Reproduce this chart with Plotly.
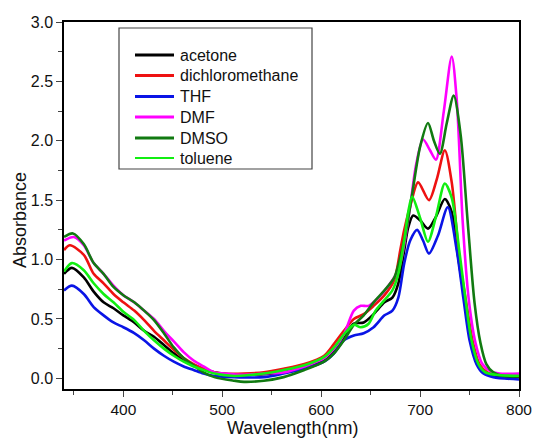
import plotly.graph_objects as go

# ---------------- data ----------------
acetone_wl = [340, 348, 360, 370, 380, 390, 400, 411, 421, 431, 441, 451, 461, 471, 481, 492, 512, 530, 562, 583,
              603, 613, 623, 633, 643, 653, 664, 672, 678, 684, 688, 693, 700, 708, 716, 725, 732, 738, 745, 751,
              758, 766, 776, 800]
acetone_abs = [0.88, 0.93, 0.85, 0.73, 0.64, 0.59, 0.53, 0.47, 0.40, 0.35, 0.28, 0.21, 0.15, 0.11, 0.08, 0.05, 0.03,
               0.03, 0.05, 0.10, 0.15, 0.24, 0.35, 0.46, 0.47, 0.54, 0.64, 0.68, 0.80, 1.08, 1.27, 1.37, 1.33, 1.26,
               1.36, 1.51, 1.40, 1.05, 0.66, 0.32, 0.12, 0.04, 0.02, 0.01]

dcm_wl = [340, 346, 360, 370, 380, 390, 400, 411, 421, 431, 441, 451, 461, 471, 481, 492, 502, 522, 542, 562, 583,
          603, 613, 623, 633, 643, 653, 664, 674, 680, 684, 690, 698, 709, 717, 725, 732, 740, 747, 753, 760,
          768, 778, 800]
dcm_abs = [1.08, 1.12, 1.04, 0.88, 0.80, 0.71, 0.64, 0.57, 0.49, 0.40, 0.32, 0.24, 0.17, 0.12, 0.08, 0.05, 0.04,
           0.04, 0.05, 0.08, 0.12, 0.19, 0.29, 0.40, 0.50, 0.54, 0.61, 0.70, 0.83, 1.08, 1.25, 1.45, 1.65, 1.50,
           1.68, 1.92, 1.65, 0.99, 0.62, 0.32, 0.12, 0.05, 0.03, 0.02]

thf_wl = [340, 348, 360, 370, 380, 390, 400, 411, 421, 431, 441, 451, 461, 471, 481, 492, 512, 542, 562, 583,
          603, 613, 623, 633, 643, 653, 664, 672, 678, 684, 690, 697, 703, 709, 718, 728, 737, 744, 750, 757,
          764, 774, 800]
thf_abs = [0.74, 0.78, 0.71, 0.60, 0.53, 0.47, 0.43, 0.38, 0.32, 0.25, 0.19, 0.14, 0.10, 0.07, 0.04, 0.02, 0.01,
           0.01, 0.04, 0.08, 0.14, 0.21, 0.32, 0.36, 0.38, 0.43, 0.53, 0.57, 0.68, 0.97, 1.16, 1.25, 1.16, 1.05,
           1.20, 1.44, 1.08, 0.66, 0.32, 0.12, 0.04, 0.01, -0.01]

dmf_wl = [340, 350, 360, 370, 380, 390, 400, 411, 421, 431, 441, 451, 461, 471, 481, 492, 502, 522, 542, 562, 583,
          603, 613, 623, 633, 640, 648, 658, 668, 678, 684, 690, 696, 703, 710, 716, 724, 732, 737, 743, 749,
          756, 763, 771, 780, 800]
dmf_abs = [1.16, 1.19, 1.12, 0.97, 0.88, 0.78, 0.70, 0.64, 0.57, 0.50, 0.40, 0.31, 0.22, 0.15, 0.10, 0.05, 0.04,
           0.03, 0.04, 0.05, 0.10, 0.17, 0.25, 0.37, 0.57, 0.61, 0.61, 0.68, 0.78, 0.91, 1.13, 1.45, 1.80, 2.01,
           1.92, 1.84, 2.25, 2.71, 2.35, 1.33, 0.68, 0.30, 0.12, 0.06, 0.04, 0.04]

dmso_wl = [340, 349, 360, 370, 380, 390, 400, 411, 421, 431, 441, 451, 461, 471, 481, 492, 512, 522, 542, 562, 583,
           603, 613, 623, 633, 643, 653, 664, 674, 680, 686, 692, 700, 708, 714, 720, 727, 734, 741, 748, 755,
           761, 767, 774, 784, 800]
dmso_abs = [1.19, 1.22, 1.13, 0.97, 0.88, 0.77, 0.70, 0.64, 0.57, 0.49, 0.38, 0.26, 0.17, 0.11, 0.05, 0.01, -0.02,
            -0.03, -0.02, 0.01, 0.07, 0.14, 0.21, 0.32, 0.45, 0.53, 0.64, 0.74, 0.85, 1.02, 1.25, 1.55, 1.95, 2.15,
            2.00, 1.89, 2.15, 2.38, 2.05, 1.33, 0.64, 0.30, 0.12, 0.05, 0.02, 0.02]

toluene_wl = [340, 348, 360, 370, 380, 390, 400, 411, 421, 431, 441, 451, 461, 471, 481, 492, 512, 530, 542, 562,
              583, 603, 613, 623, 633, 640, 648, 655, 662, 672, 678, 684, 688, 692, 700, 708, 716, 725, 732, 740,
              746, 752, 759, 766, 776, 800]
toluene_abs = [0.90, 0.97, 0.91, 0.80, 0.71, 0.64, 0.56, 0.49, 0.40, 0.32, 0.25, 0.19, 0.14, 0.10, 0.07, 0.04, 0.02,
               0.03, 0.04, 0.07, 0.11, 0.18, 0.26, 0.37, 0.45, 0.43, 0.46, 0.57, 0.64, 0.74, 0.88, 1.16, 1.40, 1.53,
               1.35, 1.15, 1.36, 1.64, 1.52, 1.05, 0.66, 0.32, 0.12, 0.05, 0.03, 0.02]

series_names = ["acetone", "dichloromethane", "THF", "DMF", "DMSO", "toluene"]
series_x = [acetone_wl, dcm_wl, thf_wl, dmf_wl, dmso_wl, toluene_wl]
series_y = [acetone_abs, dcm_abs, thf_abs, dmf_abs, dmso_abs, toluene_abs]
series_colors = ["#000000", "#ee1111", "#0a14e6", "#ff00ff", "#117a11", "#11ee11"]

x_tickvals = [400, 500, 600, 700, 800]
y_tickvals = [0.0, 0.5, 1.0, 1.5, 2.0, 2.5, 3.0]

# ---------------- geometry helpers (pixels -> paper) ----------------
W, H = 533, 438
ML, MR, MT, MB = 64, 14, 22, 49
PW, PH = W - ML - MR, H - MT - MB


def px(x):
    return (x - ML) / PW


def py(y):
    return (H - MB - y) / PH


# ---------------- figure ----------------
FONT = "Arial, 'Liberation Sans', sans-serif"
fig = go.Figure()
for name, xs, ys, col in zip(series_names, series_x, series_y, series_colors):
    fig.add_trace(go.Scatter(x=xs, y=ys, name=name, mode="lines", showlegend=False,
                             line=dict(color=col, width=2.6, shape="spline", smoothing=0.8)))

# legend drawn as a framed box with line samples and text entries
shapes = [dict(type="rect", xref="paper", yref="paper", x0=px(119), x1=px(312), y0=py(169), y1=py(28),
               line=dict(color="#444444", width=1.2), fillcolor="rgba(0,0,0,0)")]
annotations = []
legend_rows = [55, 75.5, 96.5, 117, 138, 158]
for name, col, yy in zip(series_names, series_colors, legend_rows):
    shapes.append(dict(type="line", xref="paper", yref="paper", x0=px(135), x1=px(174), y0=py(yy), y1=py(yy),
                       line=dict(color=col, width=3 if col != "#11ee11" else 2)))
    annotations.append(dict(xref="paper", yref="paper", x=px(178), y=py(yy), text=name, showarrow=False,
                            xanchor="left", yanchor="middle", font=dict(size=16, family=FONT, color="#111111")))

# axis titles (positioned as in the reference)
annotations.append(dict(xref="paper", yref="paper", x=px(20), y=py(220), text="Absorbance", showarrow=False,
                        textangle=-90, xanchor="center", yanchor="middle",
                        font=dict(size=18, family=FONT, color="#111111")))
annotations.append(dict(xref="paper", yref="paper", x=px(292), y=py(428), text="Wavelength(nm)", showarrow=False,
                        xanchor="center", yanchor="middle",
                        font=dict(size=18, family=FONT, color="#111111")))

fig.update_layout(
    width=W, height=H,
    margin=dict(l=ML, r=MR, t=MT, b=MB),
    paper_bgcolor="white", plot_bgcolor="white",
    font=dict(family=FONT, color="#111111", size=16),
    showlegend=False,
    shapes=shapes, annotations=annotations,
)
fig.update_xaxes(range=[340, 800], tickvals=x_tickvals, ticks="outside", ticklen=6, tickwidth=1.2,
                 showline=True, linecolor="black", linewidth=1.5, mirror=True, showgrid=False, zeroline=False,
                 automargin=False, tickfont=dict(size=15.5),
                 minor=dict(ticks="outside", ticklen=4, tickwidth=1.2, tick0=350, dtick=50, showgrid=False))
fig.update_yaxes(range=[-0.09, 3.0], tickvals=y_tickvals, tickformat=".1f", ticks="outside", ticklen=6, tickwidth=1.2,
                 showline=True, linecolor="black", linewidth=1.5, mirror=True, showgrid=False, zeroline=False,
                 automargin=False, tickfont=dict(size=16),
                 minor=dict(ticks="outside", ticklen=4, tickwidth=1.2, tick0=0, dtick=0.25, showgrid=False))

fig.write_html("out.html", config={"displayModeBar": False},
               post_script="document.body.style.margin='0';document.body.style.padding='0';")
